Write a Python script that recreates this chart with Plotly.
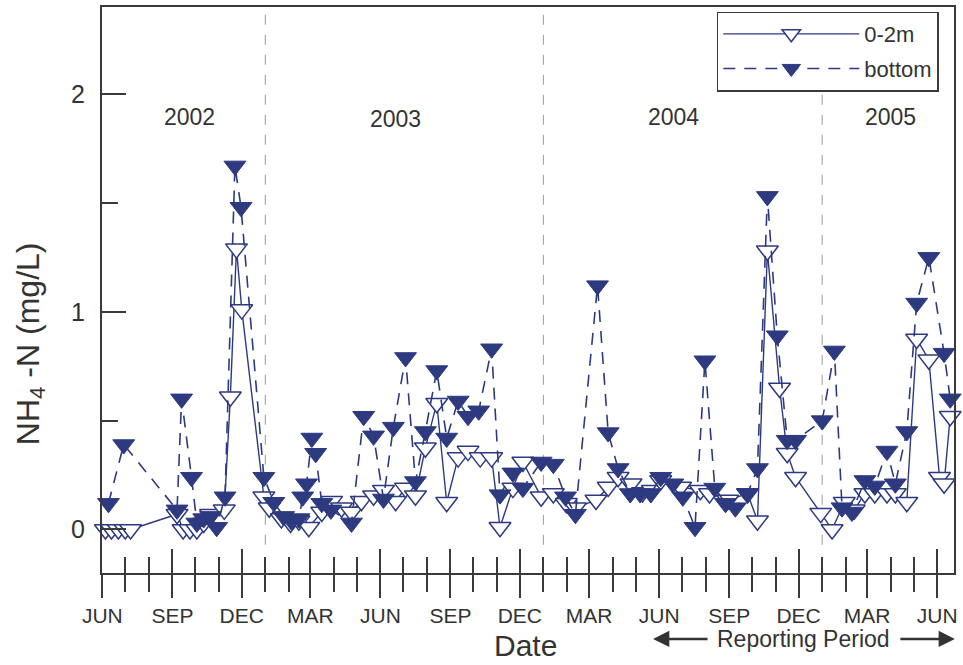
import plotly.graph_objects as go
import pandas as pd

# ---------------- data ----------------
surface_dates = [
    "2002-06-05", "2002-06-13", "2002-06-22", "2002-07-01", "2002-07-08",
    "2002-09-07", "2002-09-15", "2002-09-24", "2002-10-03", "2002-10-12",
    "2002-10-21", "2002-11-08", "2002-11-16", "2002-11-24", "2002-12-01",
    "2002-12-30",
    "2003-01-06", "2003-01-22", "2003-02-03", "2003-02-14", "2003-02-27",
    "2003-03-16", "2003-03-29", "2003-04-11", "2003-04-24", "2003-05-07",
    "2003-05-23", "2003-06-05", "2003-06-21", "2003-07-04", "2003-07-17",
    "2003-07-30", "2003-08-14", "2003-08-27", "2003-09-11", "2003-09-24",
    "2003-10-10", "2003-10-25", "2003-11-05", "2003-11-22", "2003-12-05",
    "2003-12-29",
    "2004-01-14", "2004-01-31", "2004-02-12", "2004-03-10", "2004-03-26",
    "2004-04-08", "2004-04-25", "2004-05-10", "2004-05-23", "2004-06-03",
    "2004-06-29", "2004-07-25", "2004-08-06", "2004-08-30", "2004-09-25",
    "2004-10-08", "2004-10-21", "2004-11-06", "2004-11-16", "2004-11-27",
    "2004-12-30",
    "2005-01-14", "2005-01-30", "2005-02-12", "2005-02-26", "2005-03-11",
    "2005-03-27", "2005-04-07", "2005-04-22", "2005-05-05", "2005-05-21",
    "2005-06-04", "2005-06-10", "2005-06-18",
]
surface_nh4 = [
    0.00, 0.00, 0.00, 0.00, 0.00,
    0.07, 0.00, 0.00, 0.00, 0.03,
    0.07, 0.09, 0.61, 1.29, 1.01,
    0.15,
    0.10, 0.05, 0.03, 0.04, 0.01,
    0.08, 0.13, 0.10, 0.08, 0.13,
    0.155, 0.18, 0.13, 0.19, 0.155,
    0.375, 0.58, 0.125, 0.33, 0.36,
    0.33, 0.33, 0.01, 0.19, 0.31,
    0.15,
    0.165, 0.12, 0.10, 0.135, 0.195,
    0.24, 0.21, 0.17, 0.18, 0.225,
    0.195, 0.18, 0.165, 0.135, 0.165,
    0.04, 1.28, 0.65, 0.35, 0.24,
    0.075,
    0.00, 0.125, 0.09, 0.165, 0.165,
    0.165, 0.165, 0.125, 0.875, 0.78,
    0.24, 0.21, 0.52,
]

bottom_dates = [
    "2002-06-09", "2002-06-29", "2002-09-07", "2002-09-13", "2002-09-26",
    "2002-10-03", "2002-10-12", "2002-10-21", "2002-10-29", "2002-11-09",
    "2002-11-22", "2002-11-30", "2002-12-30",
    "2003-01-12", "2003-01-25", "2003-02-04", "2003-02-14", "2003-02-19",
    "2003-02-24", "2003-03-03", "2003-03-08", "2003-03-16", "2003-03-28",
    "2003-04-24", "2003-05-10", "2003-05-23", "2003-06-05", "2003-06-18",
    "2003-07-04", "2003-07-17", "2003-07-30", "2003-08-14", "2003-08-27",
    "2003-09-11", "2003-09-24", "2003-10-08", "2003-10-25", "2003-11-05",
    "2003-11-22", "2003-12-05", "2003-12-29",
    "2004-01-14", "2004-01-30", "2004-02-12", "2004-03-12", "2004-03-26",
    "2004-04-08", "2004-04-24", "2004-05-07", "2004-05-21", "2004-06-03",
    "2004-06-19", "2004-07-02", "2004-07-18", "2004-07-31", "2004-08-13",
    "2004-08-27", "2004-09-09", "2004-09-25", "2004-10-08", "2004-10-21",
    "2004-11-03", "2004-11-16", "2004-11-27",
    "2005-01-01", "2005-01-17", "2005-01-27", "2005-02-09", "2005-02-26",
    "2005-03-11", "2005-03-27", "2005-04-07", "2005-04-22", "2005-05-05",
    "2005-05-21", "2005-06-10", "2005-06-18",
]
bottom_nh4 = [
    0.12, 0.39, 0.09, 0.60, 0.24,
    0.03, 0.05, 0.06, 0.01, 0.15,
    1.67, 1.48, 0.24,
    0.125, 0.06, 0.04, 0.05, 0.15,
    0.21, 0.42, 0.35, 0.12, 0.09,
    0.03, 0.52, 0.43, 0.14, 0.47,
    0.79, 0.22, 0.45, 0.73, 0.42,
    0.59, 0.52, 0.545, 0.83, 0.16,
    0.26, 0.19, 0.31,
    0.30, 0.15, 0.07, 1.12, 0.445,
    0.28, 0.165, 0.165, 0.165, 0.24,
    0.21, 0.15, 0.01, 0.775, 0.19,
    0.12, 0.10, 0.165, 0.28, 1.53,
    0.89, 0.41, 0.41,
    0.50, 0.82, 0.10, 0.08, 0.225,
    0.20, 0.36, 0.21, 0.45, 1.04,
    1.25, 0.81, 0.60,
]

x_tick_dates = ["2002-06-01", "2002-09-01", "2002-12-01", "2003-03-01",
                "2003-06-01", "2003-09-01", "2003-12-01", "2004-03-01",
                "2004-06-01", "2004-09-01", "2004-12-01", "2005-03-01",
                "2005-06-01"]
x_tick_labels = ["JUN", "SEP", "DEC", "MAR", "JUN", "SEP", "DEC", "MAR",
                 "JUN", "SEP", "DEC", "MAR", "JUN"]
year_starts = ["2003-01-01", "2004-01-01", "2005-01-01"]
year_labels = ["2002", "2003", "2004", "2005"]
y_tick_vals = [0, 1, 2]
y_tick_labels = ["0", "1", "2"]
y_minor_vals = [0.5, 1.5]

# ---------------- styling ----------------
NAVY = "#2d3a80"
AXIS = "#3a3a3a"
FONT = "Liberation Sans, Arial, sans-serif"
month_ticks = list(pd.date_range("2002-06-01", "2005-06-01", freq="MS").strftime("%Y-%m-%d"))
x_range = ["2002-05-31 12:00", "2005-06-23"]

fig = go.Figure()

fig.add_trace(go.Scatter(
    x=surface_dates, y=surface_nh4, name="0-2m", legendgroup="a",
    mode="lines+markers", cliponaxis=False,
    line=dict(color=NAVY, width=1.4),
    marker=dict(symbol="triangle-down", size=19, color="white",
                line=dict(color=NAVY, width=1.5)),
))
fig.add_trace(go.Scatter(
    x=bottom_dates, y=bottom_nh4, name="bottom", legendgroup="b",
    mode="lines+markers", cliponaxis=False,
    line=dict(color=NAVY, width=1.6, dash="12px,9px"),
    marker=dict(symbol="triangle-down", size=19, color=NAVY,
                line=dict(color=NAVY, width=1)),
))
# invisible helper trace so the overlaid tick axis (inner tick halves) is drawn
fig.add_trace(go.Scatter(
    x=bottom_dates, y=bottom_nh4, xaxis="x2", mode="markers",
    marker=dict(opacity=0), showlegend=False, hoverinfo="skip",
))

for ys in year_starts:
    fig.add_shape(type="line", xref="x", yref="paper", x0=ys, x1=ys,
                  y0=0.05, y1=1, layer="below",
                  line=dict(color="#ababab", width=1.2, dash="10px,10px"))

year_pos = [(0.103, 0.8065), (0.345, 0.803), (0.671, 0.805), (0.926, 0.8065)]
for lab, (px, py) in zip(year_labels, year_pos):
    fig.add_annotation(text=lab, x=px, y=py, xref="paper", yref="paper",
                       xanchor="center", yanchor="middle",
                       showarrow=False, font=dict(size=23, color="#333", family=FONT))

# axis titles
fig.add_annotation(text="NH<sub>4</sub> -N (mg/L)", x=-0.084, y=0.405,
                   xref="paper", yref="paper", textangle=-90, showarrow=False,
                   xanchor="center", yanchor="middle",
                   font=dict(size=32, color="#333", family=FONT))
fig.add_annotation(text="Date", x=0.497, y=-0.128, xref="paper", yref="paper",
                   xanchor="center", yanchor="middle",
                   showarrow=False, font=dict(size=30, color="#333", family=FONT))
fig.add_annotation(text="Reporting Period", x=0.8234, y=-0.1165,
                   xref="paper", yref="paper", showarrow=False,
                   xanchor="center", yanchor="middle",
                   font=dict(size=23, color="#333", family=FONT))
fig.add_annotation(text="", x=0.6468, y=-0.1165, xref="paper", yref="paper",
                   ax=56, ay=0, showarrow=True, arrowhead=2, arrowsize=1.3,
                   arrowwidth=2.5, arrowcolor="#333")
fig.add_annotation(text="", x=1.001, y=-0.1165, xref="paper", yref="paper",
                   ax=-56, ay=0, showarrow=True, arrowhead=2, arrowsize=1.3,
                   arrowwidth=2.5, arrowcolor="#333")

tickfont = dict(size=21, color="#333", family=FONT)
fig.update_layout(
    width=963, height=665,
    margin=dict(l=102, r=6, t=5, b=92),
    paper_bgcolor="white", plot_bgcolor="white",
    font=dict(family=FONT, color="#333"),
    showlegend=True,
    legend=dict(x=0.7216, y=0.992, xanchor="left", yanchor="top",
                bgcolor="white", bordercolor=AXIS, borderwidth=1.5,
                font=dict(size=22, color="#333", family=FONT),
                itemwidth=136, itemsizing="trace", tracegroupgap=3),
    xaxis=dict(
        type="date", range=x_range,
        showline=True, linecolor=AXIS, linewidth=2, mirror=True,
        showgrid=False, zeroline=False,
        tickmode="array", tickvals=x_tick_dates, ticktext=x_tick_labels,
        ticks="outside", ticklen=23, tickwidth=1.5, tickcolor=AXIS,
        tickfont=tickfont,
        minor=dict(tickmode="array", tickvals=month_ticks, ticks="outside",
                   ticklen=17, tickwidth=1.5, tickcolor=AXIS, showgrid=False),
    ),
    xaxis2=dict(
        type="date", overlaying="x", matches="x", anchor="y", side="bottom",
        showline=False, showgrid=False, zeroline=False, showticklabels=False,
        tickmode="array", tickvals=x_tick_dates,
        ticks="inside", ticklen=24, tickwidth=1.5, tickcolor=AXIS,
        minor=dict(tickmode="array", tickvals=month_ticks, ticks="inside",
                   ticklen=16, tickwidth=1.5, tickcolor=AXIS, showgrid=False),
    ),
    yaxis=dict(
        range=[-0.2, 2.4],
        showline=True, linecolor=AXIS, linewidth=2, mirror=True,
        showgrid=False, zeroline=False,
        tickmode="array", tickvals=y_tick_vals, ticktext=y_tick_labels,
        ticks="inside", ticklen=24, tickwidth=1.5, tickcolor=AXIS,
        tickfont=dict(size=25, color="#333", family=FONT),
        ticklabelstandoff=10,
        minor=dict(tickmode="array", tickvals=y_minor_vals, ticks="inside",
                   ticklen=16, tickwidth=1.5, tickcolor=AXIS, showgrid=False),
    ),
)

fig.write_html("out.html", config={"displayModeBar": False},
               post_script="document.body.style.margin='0';document.body.style.overflow='hidden';")
